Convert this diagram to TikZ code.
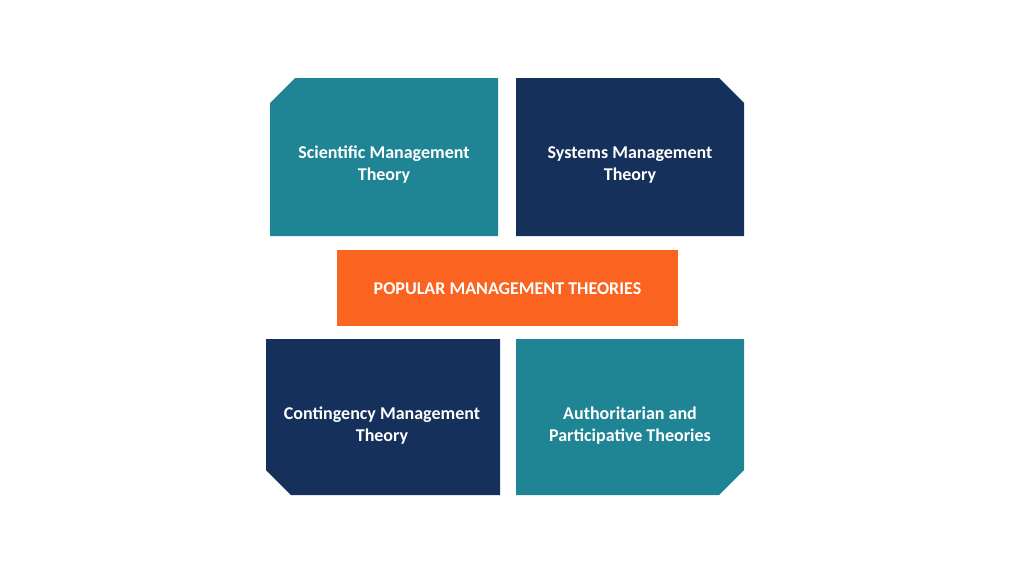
\documentclass[tikz,border=0pt]{standalone}
\usepackage{fontspec}
\setmainfont{Carlito}
\usepackage{tikz}
\usetikzlibrary{calc}

\definecolor{tealbox}{HTML}{1F8595}
\definecolor{navybox}{HTML}{15305A}
\definecolor{orangebox}{HTML}{FA6320}

\tikzset{
	label text/.style={text=white,font=\bfseries\fontsize{18}{22}\selectfont,align=center}
}

\begin{document}
\begin{tikzpicture}[x=1pt,y=-1pt]
	\useasboundingbox (0,0) rectangle (1024,576);
	
	%top boxes
	\fill[tealbox] (295,78)--(498,78)--(498,236)--(270,236)--(270,103)--cycle;
	\fill[navybox] (516,78)--(719,78)--(744,103)--(744,236)--(516,236)--cycle;
	
	%centre box
	\fill[orangebox] (337,250) rectangle (678,326);
	
	%bottom boxes
	\fill[navybox] (266,339)--(500,339)--(500,495)--(291,495)--(266,470)--cycle;
	\fill[tealbox] (516,339)--(744,339)--(744,470)--(719,495)--(516,495)--cycle;
	
	%labels
	\node[label text] (sci) at (384,165)	{Scientific Management\\Theory};
	\node[label text] (sys) at (630,165)	{Systems Management\\Theory};
	\node[label text] (pop) at (507.5,289)	{POPULAR MANAGEMENT THEORIES};
	\node[label text] (con) at (382,426)	{Contingency Management\\Theory};
	\node[label text] (aut) at (630,426)	{Authoritarian and\\Participative Theories};
\end{tikzpicture}
\end{document}
